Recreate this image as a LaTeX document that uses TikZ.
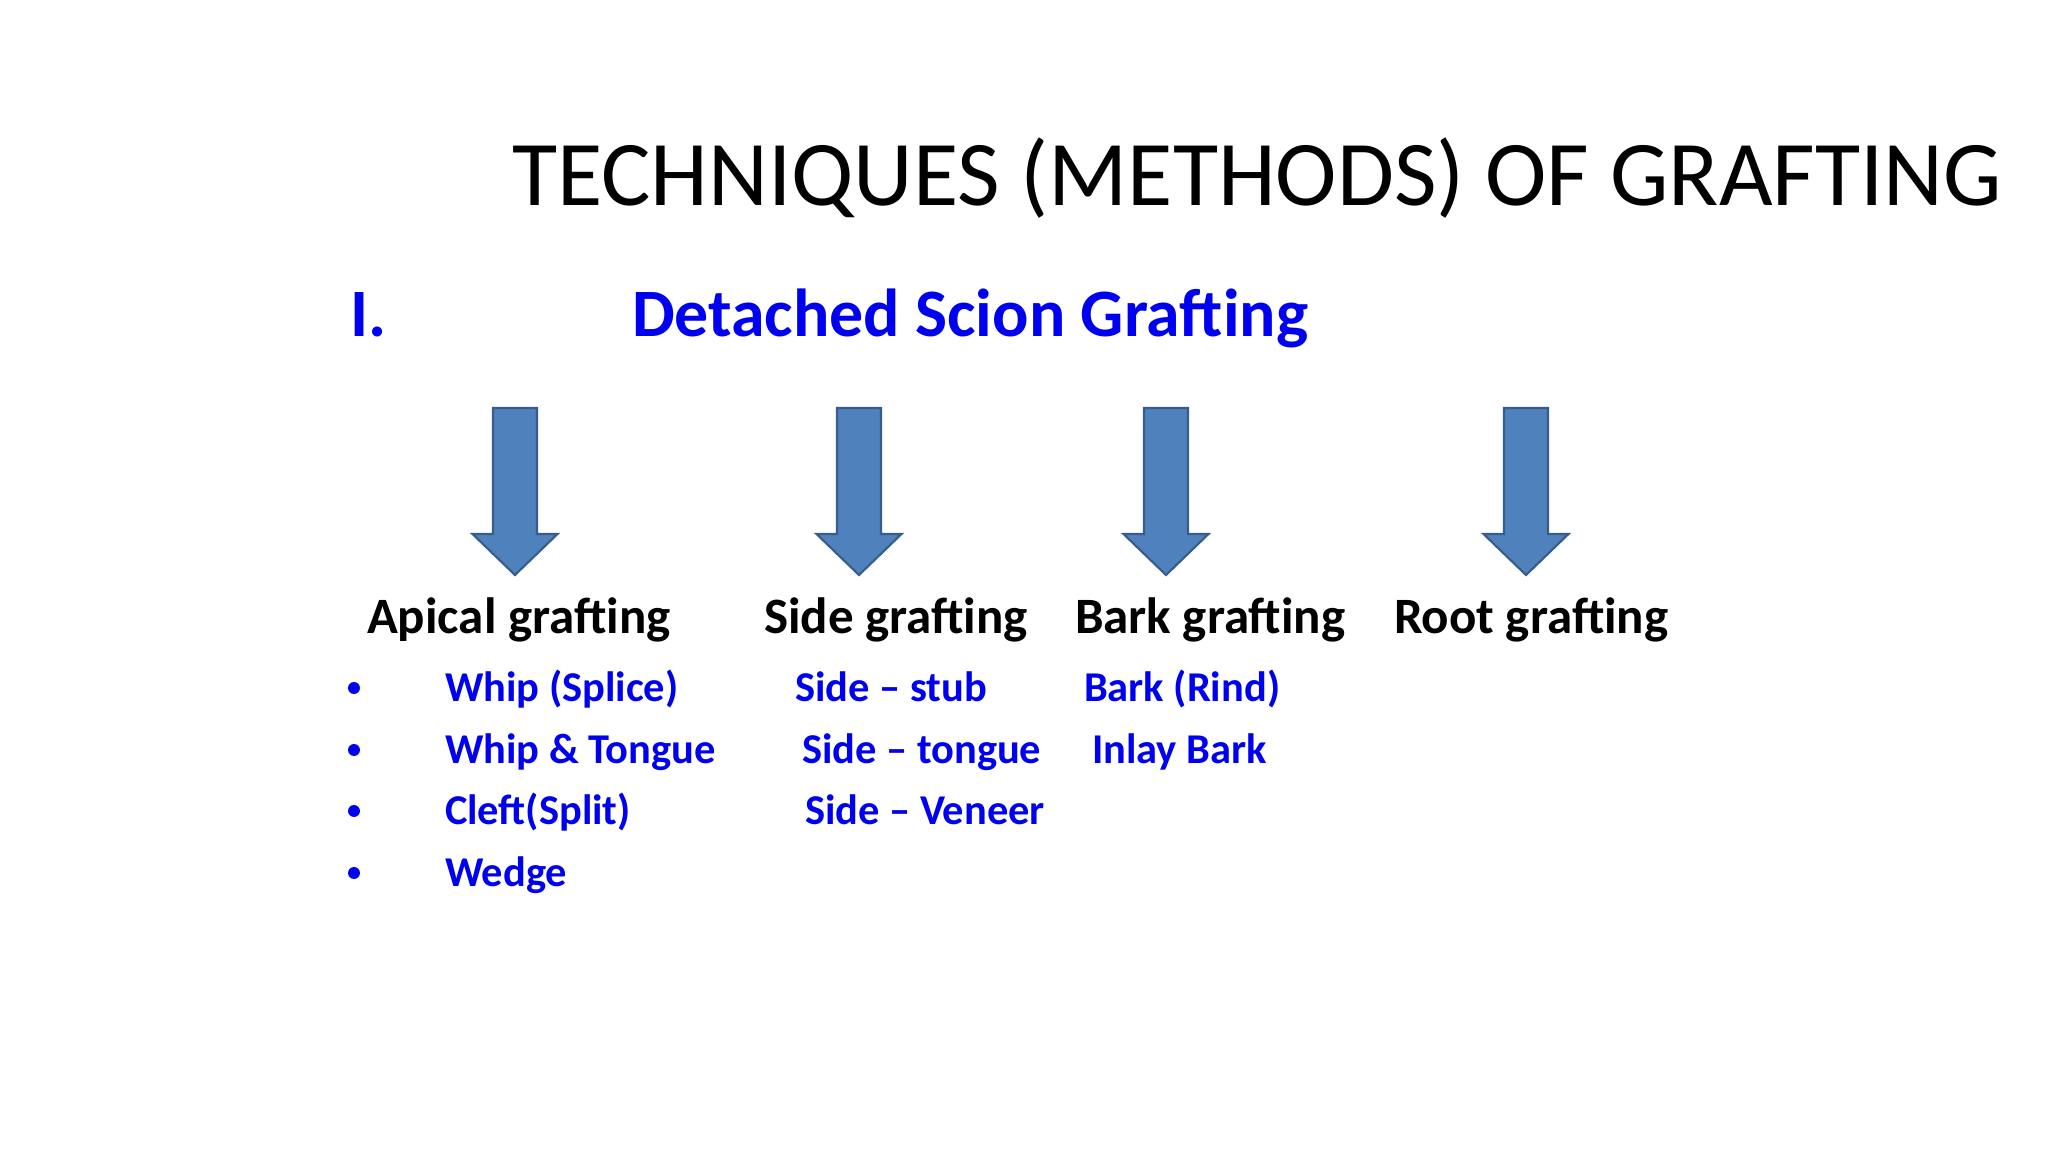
\documentclass[tikz,border=0pt]{standalone}
\usepackage{fontspec}
\setmainfont{Carlito}
\definecolor{arrowfill}{HTML}{4F81BD}
\definecolor{arrowedge}{HTML}{385D8A}
\definecolor{itemblue}{HTML}{0000F0}
\begin{document}
\begin{tikzpicture}[x=0.46875pt,y=-0.46875pt,
  txt/.style={anchor=base west,inner sep=0pt,outer sep=0pt},
  title/.style={txt,font=\fontsize{43.4}{48}\selectfont,text=black},
  sub/.style={txt,font=\bfseries\fontsize{31.8}{36}\selectfont,text=itemblue},
  head/.style={txt,font=\bfseries\fontsize{23.9}{28}\selectfont,text=black},
  item/.style={txt,font=\bfseries\fontsize{19.9}{24}\selectfont,text=itemblue},
  bul/.style={circle,fill=itemblue,inner sep=0pt,minimum size=5.6pt},
  blockarrow/.style={fill=arrowfill,draw=arrowedge,line width=1pt,line join=miter}]
\fill[white] (0,0) rectangle (2048,1152);
\useasboundingbox (0,0) rectangle (2048,1152);
\node[title] (t) at (512,206) {TECHNIQUES (METHODS) OF GRAFTING};
\node[sub] (roman) at (350,337) {I.};
\node[sub] (sub) at (632,337) {Detached Scion Grafting};
\foreach \cx/\nm in {515/a1,859/a2,1166/a3,1526/a4}{
  \draw[blockarrow] (\cx-22,408) -- (\cx+22,408) -- (\cx+22,534) -- (\cx+42.5,534)
    -- (\cx,575) -- (\cx-42.5,534) -- (\cx-22,534) -- cycle;
}
\node[head] (h1) at (367,633) {Apical grafting};
\node[head] (h2) at (764,633) {Side grafting};
\node[head] (h3) at (1075,633) {Bark grafting};
\node[head] (h4) at (1394,633) {Root grafting};
\node[item] (i11) at (445,701) {Whip (Splice)};
\node[item] (i12) at (445,763) {Whip \& Tongue};
\node[item] (i13) at (445,824) {Cleft(Split)};
\node[item] (i14) at (445,886) {Wedge};
\node[bul] (b1) at (354,688) {};
\node[bul] (b2) at (354,750) {};
\node[bul] (b3) at (354,811) {};
\node[bul] (b4) at (354,873) {};
\node[item] (i21) at (795,701) {Side – stub};
\node[item] (i22) at (802,763) {Side – tongue};
\node[item] (i23) at (805,824) {Side – Veneer};
\node[item] (i31) at (1084,701) {Bark (Rind)};
\node[item] (i32) at (1092,763) {Inlay Bark};
\end{tikzpicture}
\end{document}
